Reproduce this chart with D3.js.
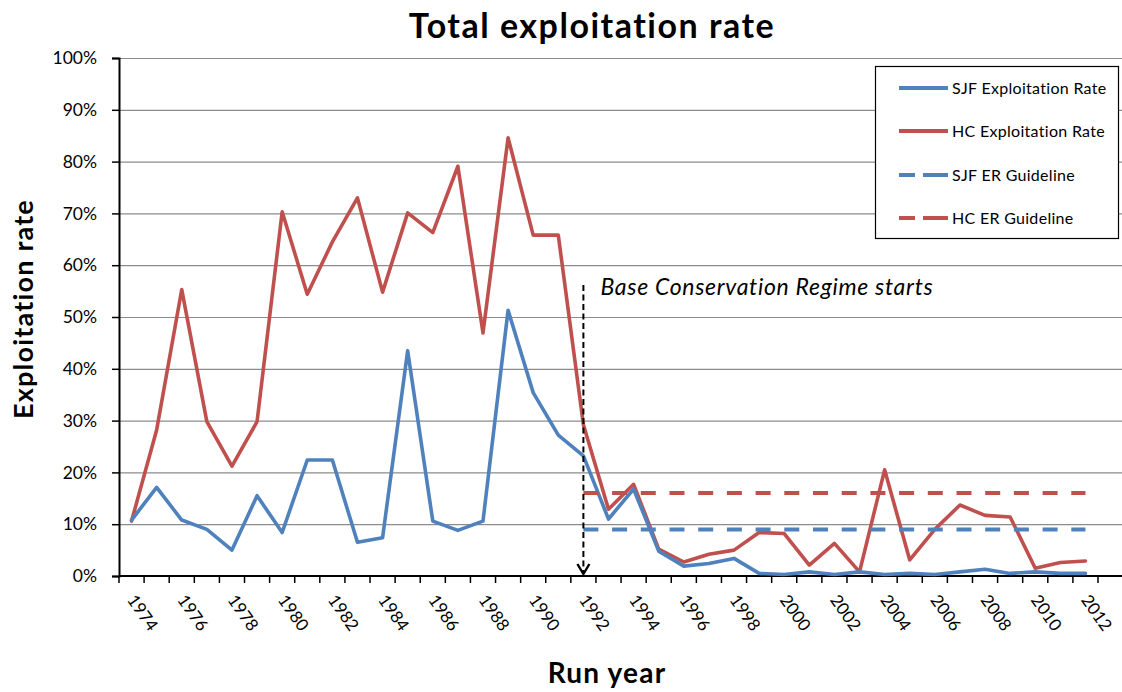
<!DOCTYPE html>
<html>
<head>
<meta charset="utf-8">
<script src="https://cdn.jsdelivr.net/npm/d3@7"></script>
<style>
  html, body { margin: 0; padding: 0; background: #fff; }
  svg { display: block; font-family: Lato, "Open Sans", sans-serif; }
</style>
</head>
<body>
<svg id="chart" width="1122" height="692"></svg>
<script>
// ---- data ----
const years = [1974,1975,1976,1977,1978,1979,1980,1981,1982,1983,1984,1985,1986,1987,1988,1989,1990,1991,1992,
               1993,1994,1995,1996,1997,1998,1999,2000,2001,2002,2003,2004,2005,2006,2007,2008,2009,2010,2011,2012];
const sjfRate = [10.8,17.1,10.8,9.0,5.0,15.5,8.4,22.4,22.4,6.5,7.4,43.5,10.6,8.8,10.6,51.3,35.4,27.2,23.2,
                 11.0,16.8,4.8,1.9,2.4,3.4,0.5,0.3,0.8,0.3,0.8,0.3,0.5,0.3,0.8,1.3,0.5,0.8,0.5,0.5];
const hcRate = [10.6,28.2,55.3,29.8,21.2,29.8,70.3,54.4,64.5,73.0,54.8,70.1,66.3,79.1,46.9,84.6,65.8,65.8,29.2,
                12.9,17.7,5.2,2.7,4.2,5.0,8.4,8.2,2.1,6.3,0.8,20.5,3.1,9.0,13.7,11.7,11.4,1.5,2.6,2.9];
const guideYears = [1992, 2012];
const sjfGuide = [9, 9];
const hcGuide = [16, 16];
const yTicks = [0,10,20,30,40,50,60,70,80,90,100];
const xLabelYears = [1974,1976,1978,1980,1982,1984,1986,1988,1990,1992,1994,1996,1998,2000,2002,2004,2006,2008,2010,2012];
const annotationYear = 1992;
const annotationTop = 56.2;
const annotationText = "Base Conservation Regime starts";
const seriesNames = ["SJF Exploitation Rate", "HC Exploitation Rate", "SJF ER Guideline", "HC ER Guideline"];

(function () {
const BLUE = "#4F81BD", RED = "#C0504D";

const svg = d3.select("#chart");
const pLeft = 119, pRight = 1098, gridRight = 1122, pTop = 58, pBottom = 576;

const x = d3.scaleBand().domain(years).range([pLeft, pRight]).padding(0);
const cx = d => x(d) + x.bandwidth() / 2;
const y = d3.scaleLinear().domain([0, 100]).range([pBottom, pTop]);

// gridlines
svg.append("g").selectAll("line").data(yTicks.filter(t => t > 0)).join("line")
  .attr("x1", pLeft).attr("x2", gridRight)
  .attr("y1", d => y(d) + 0.5).attr("y2", d => y(d) + 0.5)
  .attr("stroke", "#8c8c8c").attr("stroke-width", 1.2);

// y axis
const yAxis = d3.axisLeft(y).tickValues(yTicks).tickSize(7).tickPadding(15)
  .tickFormat(d => d + "%");
const gy = svg.append("g").attr("transform", `translate(${pLeft},0)`).call(yAxis);
gy.select(".domain").attr("stroke", "#000").attr("stroke-width", 2);
gy.selectAll(".tick line").attr("stroke", "#000").attr("stroke-width", 1.5);
gy.selectAll(".tick text").attr("font-size", 17.5).attr("font-family", "Lato, sans-serif").attr("fill", "#000");

// x axis (category axis, ticks at band boundaries)
const gx = svg.append("g");
gx.append("line").attr("x1", pLeft).attr("x2", gridRight)
  .attr("y1", pBottom).attr("y2", pBottom).attr("stroke", "#000").attr("stroke-width", 2);
const boundaries = years.map(d => x(d)).concat([x(years[years.length - 1]) + x.bandwidth()]);
gx.selectAll("line.tk").data(boundaries).join("line").attr("class", "tk")
  .attr("x1", d => d).attr("x2", d => d).attr("y1", pBottom).attr("y2", pBottom + 7)
  .attr("stroke", "#000").attr("stroke-width", 1.5);
gx.selectAll("text").data(xLabelYears).join("text")
  .attr("transform", d => `translate(${cx(d) - 5},${600}) rotate(55)`)
  .attr("font-size", 17).attr("fill", "#000")
  .text(d => d);

// series lines
const line = d3.line().x((d, i) => cx(years[i])).y(d => y(d));
svg.append("path").datum(hcRate).attr("d", line)
  .attr("fill", "none").attr("stroke", RED).attr("stroke-width", 3.6)
  .attr("stroke-linejoin", "round").attr("stroke-linecap", "round");
svg.append("path").datum(sjfRate).attr("d", line)
  .attr("fill", "none").attr("stroke", BLUE).attr("stroke-width", 3.6)
  .attr("stroke-linejoin", "round").attr("stroke-linecap", "round");

// guidelines
const gline = d3.line().x((d, i) => cx(guideYears[i])).y(d => y(d));
svg.append("path").datum(hcGuide).attr("d", gline)
  .attr("fill", "none").attr("stroke", RED).attr("stroke-width", 4)
  .attr("stroke-dasharray", "15,13.7");
svg.append("path").datum(sjfGuide).attr("d", gline)
  .attr("fill", "none").attr("stroke", BLUE).attr("stroke-width", 4)
  .attr("stroke-dasharray", "15,13.7");

// annotation arrow
const ax = cx(annotationYear);
svg.append("line").attr("x1", ax).attr("x2", ax)
  .attr("y1", y(annotationTop)).attr("y2", pBottom - 3)
  .attr("stroke", "#000").attr("stroke-width", 2).attr("stroke-dasharray", "6,3.5");
svg.append("path")
  .attr("d", `M${ax - 6},${pBottom - 12} L${ax},${pBottom - 2} L${ax + 6},${pBottom - 12}`)
  .attr("fill", "none").attr("stroke", "#000").attr("stroke-width", 2.4);
svg.append("text").attr("x", ax + 17).attr("y", 295)
  .attr("font-size", 23).attr("font-style", "italic").attr("letter-spacing", 0.7).attr("fill", "#000")
  .text(annotationText);

// titles
svg.append("text").attr("x", 592).attr("y", 38).attr("text-anchor", "middle")
  .attr("font-size", 34).attr("font-weight", "bold").attr("letter-spacing", 1.5).attr("fill", "#000")
  .text("Total exploitation rate");
svg.append("text").attr("transform", "translate(33,309) rotate(-90)")
  .attr("text-anchor", "middle").attr("font-size", 27).attr("font-weight", "bold").attr("letter-spacing", 1.2).attr("fill", "#000")
  .text("Exploitation rate");
svg.append("text").attr("x", 607).attr("y", 683).attr("text-anchor", "middle")
  .attr("font-size", 28).attr("font-weight", "bold").attr("letter-spacing", 1.2).attr("fill", "#000")
  .text("Run year");

// legend
const lg = svg.append("g");
lg.append("rect").attr("x", 875.5).attr("y", 66.5).attr("width", 243).attr("height", 172)
  .attr("fill", "#fff").attr("stroke", "#000").attr("stroke-width", 1.2);
const legendItems = [
  { name: seriesNames[0], color: BLUE, dash: null },
  { name: seriesNames[1], color: RED, dash: null },
  { name: seriesNames[2], color: BLUE, dash: "16,8,25" },
  { name: seriesNames[3], color: RED, dash: "16,8,25" }
];
const rows = [88, 131, 175, 218];
legendItems.forEach((it, i) => {
  lg.append("line").attr("x1", 899).attr("x2", 948).attr("y1", rows[i]).attr("y2", rows[i])
    .attr("stroke", it.color).attr("stroke-width", 4)
    .attr("stroke-dasharray", it.dash);
  lg.append("text").attr("x", 952).attr("y", rows[i]).attr("dy", "0.35em")
    .attr("font-size", 16).attr("letter-spacing", 0.3).attr("fill", "#000").text(it.name);
});
})();
</script>
</body>
</html>
